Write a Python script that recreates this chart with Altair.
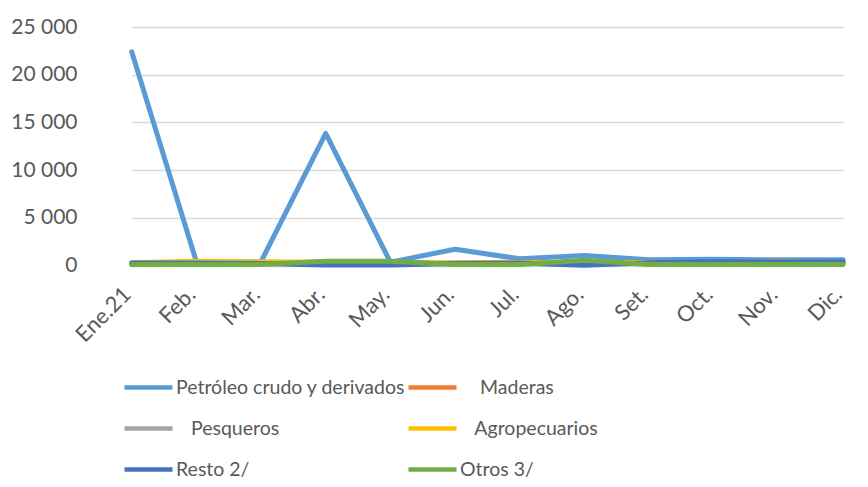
import altair as alt
import pandas as pd

months = ["Ene.21", "Feb.", "Mar.", "Abr.", "May.", "Jun.", "Jul.", "Ago.", "Set.", "Oct.", "Nov.", "Dic."]
series = ["Petróleo crudo y derivados", "\u200b\u00a0\u00a0\u00a0\u00a0Maderas", "\u200b\u00a0\u00a0\u00a0Pesqueros",
          "\u200b\u00a0\u00a0\u00a0Agropecuarios", "Resto 2/", "Otros 3/"]
colors = ["#5B9BD5", "#ED7D31", "#A5A5A5", "#FFC000", "#4472C4", "#70AD47"]

petroleo = [22400, 400, 400, 13850, 350, 1700, 700, 1050, 600, 650, 600, 600]
maderas = [250, 300, 300, 250, 250, 250, 350, 300, 350, 300, 300, 300]
pesqueros = [200, 200, 200, 200, 200, 200, 200, 200, 200, 250, 250, 250]
agropecuarios = [300, 450, 400, 350, 300, 250, 300, 350, 300, 300, 450, 350]
resto = [250, 250, 200, 50, 50, 200, 250, 20, 300, 400, 400, 400]
otros = [100, 100, 100, 450, 450, 100, 100, 550, 100, 100, 100, 100]

values = [petroleo, maderas, pesqueros, agropecuarios, resto, otros]
rows = []
for s, vals in zip(series, values):
    for m, v in zip(months, vals):
        rows.append({"mes": m, "serie": s, "valor": v})
df = pd.DataFrame(rows)

FONT = "Lato"
TXT = "#595959"

chart = alt.Chart(df).mark_line(strokeWidth=5, strokeCap="round", strokeJoin="round").encode(
    x=alt.X("mes:N", sort=months, title=None,
            scale=alt.Scale(type="point", range=[31.7, 743], padding=0),
            axis=alt.Axis(labelAngle=-45, domain=False, ticks=False, grid=False,
                          labelFontSize=22, labelColor=TXT, labelFont=FONT, labelPadding=30,
                          labelAlign="right", labelBaseline="alphabetic")),
    y=alt.Y("valor:Q", title=None,
            scale=alt.Scale(domain=[0, 25000], nice=False),
            axis=alt.Axis(values=[0, 5000, 10000, 15000, 20000, 25000], domain=False, ticks=False,
                          gridColor="#D9D9D9", gridWidth=1.3,
                          labelExpr="replace(format(datum.value, ',d'), ',', ' ')",
                          labelFontSize=21, labelColor=TXT, labelFont=FONT, labelPadding=23)),
    color=alt.Color("serie:N", sort=series, title=None,
                    scale=alt.Scale(domain=series, range=colors),
                    legend=alt.Legend(orient="none", legendX=22, legendY=334, columns=2,
                                      direction="horizontal",
                                      symbolType="stroke", symbolSize=2304, symbolStrokeWidth=4.5,
                                      labelFontSize=19.5, labelColor=TXT, labelFont=FONT,
                                      labelOffset=1, columnPadding=-8, rowPadding=5, padding=0,
                                      labelLimit=400)),
).properties(
    width=760, height=238.5,
    autosize=alt.AutoSizeParams(type="none"),
    padding={"left": 92, "top": 19, "right": 0, "bottom": 213},
).configure_view(stroke=None)

chart.save("out.html", embed_options={"renderer": "svg", "actions": False})
